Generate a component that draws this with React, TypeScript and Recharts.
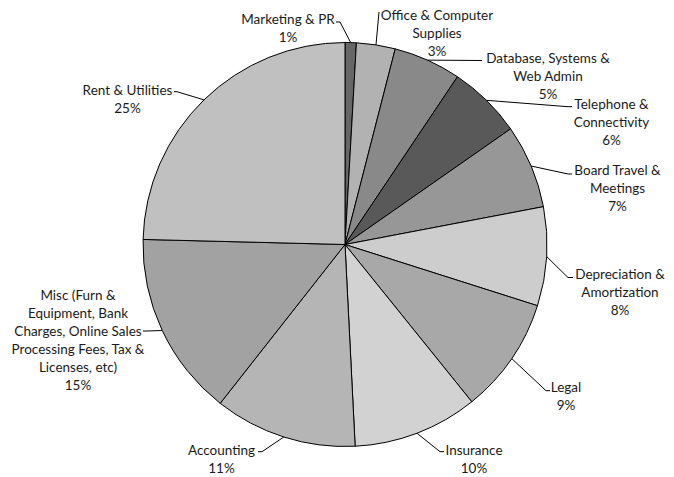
import React from "react";
import { PieChart, Pie, Cell } from "recharts";

const categories = [
  "Marketing & PR",
  "Office & Computer Supplies",
  "Database, Systems & Web Admin",
  "Telephone & Connectivity",
  "Board Travel & Meetings",
  "Depreciation & Amortization",
  "Legal",
  "Insurance",
  "Accounting",
  "Misc (Furn & Equipment, Bank Charges, Online Sales Processing Fees, Tax & Licenses, etc)",
  "Rent & Utilities",
];

const values = [0.9, 3.1, 5.4, 5.9, 6.7, 7.9, 9.3, 10.0, 11.4, 14.8, 24.6];

const labelTextLines = [
  ["Marketing & PR"],
  ["Office & Computer", "Supplies"],
  ["Database, Systems &", "Web Admin"],
  ["Telephone &", "Connectivity"],
  ["Board Travel &", "Meetings"],
  ["Depreciation &", "Amortization"],
  ["Legal"],
  ["Insurance"],
  ["Accounting"],
  ["Misc (Furn &", "Equipment, Bank", "Charges, Online Sales", "Processing Fees, Tax &", "Licenses, etc)"],
  ["Rent & Utilities"],
];

const colors = [
  "#666666",
  "#b2b2b2",
  "#898989",
  "#595959",
  "#979797",
  "#cdcdcd",
  "#a8a8a8",
  "#d2d2d2",
  "#b5b5b5",
  "#a2a2a2",
  "#c0c0c0",
];

// label layout: text center x, first line center y, leader elbow and end points
const labelLayout = [
  { tx: 288, ty: 19, elbow: [340, 22], end: [336, 22] },
  { tx: 437, ty: 15, elbow: [379, 12], end: [379, 12] },
  { tx: 548, ty: 57.5, elbow: [482, 60.5], end: [482, 60.5] },
  { tx: 611.5, ty: 104.3, elbow: [568, 106.7], end: [572, 106.7] },
  { tx: 617.5, ty: 170, elbow: [568, 174], end: [572, 174] },
  { tx: 620, ty: 274.3, elbow: [568, 277.5], end: [573, 277.5] },
  { tx: 566, ty: 387, elbow: [546, 390.7], end: [550, 390.7] },
  { tx: 474, ty: 450, elbow: [440, 451.7], end: [444, 451.7] },
  { tx: 221.5, ty: 450, elbow: [262, 451.7], end: [258, 451.7] },
  { tx: 78, ty: 295, elbow: [147, 331], end: [143, 331] },
  { tx: 127.5, ty: 89.5, elbow: [177, 91.7], end: [174, 91.7] },
];

const data = categories.map((name, i) => ({ name, value: values[i] }));

const RADIAN = Math.PI / 180;
const LINE_H = 18;

const renderLabel = (props: any) => {
  const { cx, cy, midAngle, outerRadius, index, percent } = props;
  const ex = cx + outerRadius * Math.cos(-midAngle * RADIAN);
  const ey = cy + outerRadius * Math.sin(-midAngle * RADIAN);
  const lay = labelLayout[index];
  const lines = [...labelTextLines[index], `${Math.round(percent * 100)}%`];
  return (
    <g key={`lbl-${index}`}>
      <polyline
        points={`${ex},${ey} ${lay.elbow[0]},${lay.elbow[1]} ${lay.end[0]},${lay.end[1]}`}
        fill="none"
        stroke="#000"
        strokeWidth={1}
      />
      {lines.map((t, j) => (
        <text
          key={j}
          x={lay.tx}
          y={lay.ty + j * LINE_H}
          textAnchor="middle"
          dominantBaseline="central"
          fill="#1a1a1a"
          fontFamily="Lato, 'Open Sans', sans-serif"
          fontSize={13.5}
        >
          {t}
        </text>
      ))}
    </g>
  );
};

export default function App() {
  return (
    <div style={{ position: "absolute", left: 0, top: 0, width: 674, height: 477, background: "#fff" }}>
      <PieChart width={674} height={477} margin={{ top: 0, right: 0, bottom: 0, left: 0 }}>
        <Pie
          data={data}
          dataKey="value"
          nameKey="name"
          cx={345}
          cy={244.5}
          outerRadius={202}
          startAngle={90}
          endAngle={-270}
          stroke="#000"
          strokeWidth={1}
          label={renderLabel}
          labelLine={false}
          isAnimationActive={false}
        >
          {data.map((d, i) => (
            <Cell key={d.name} fill={colors[i]} />
          ))}
        </Pie>
      </PieChart>
    </div>
  );
}
